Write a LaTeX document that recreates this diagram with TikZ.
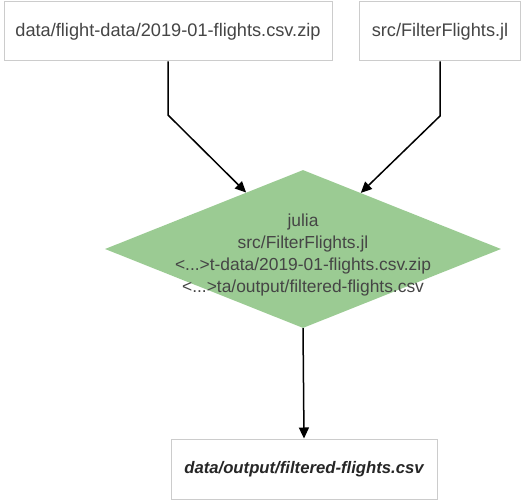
\documentclass[tikz,border=0pt]{standalone}
\usepackage{fontspec}
\setmainfont{Liberation Sans}
\usetikzlibrary{shapes.geometric,arrows.meta}
\definecolor{boxline}{HTML}{CCCCCC}
\definecolor{dgreen}{HTML}{9BCB93}
\definecolor{txtgrey}{HTML}{454545}
\begin{document}
\begin{tikzpicture}[x=1pt,y=-1pt,
  filebox/.style={draw=boxline, line width=1pt, fill=white, inner sep=0pt, text=txtgrey, font=\fontsize{18.2}{20}\selectfont},
  conn/.style={draw=black, line width=1.5pt, -{Triangle[length=11pt,width=10pt]}}]
\useasboundingbox (0,0) rectangle (521,502);
\node[filebox, minimum width=328pt, minimum height=59pt] (src1) at (168,31.5) {data/flight-data/2019-01-flights.csv.zip};
\node[filebox, minimum width=161pt, minimum height=59pt] (src2) at (440,31.5) {src/FilterFlights.jl};
\node[diamond, fill=dgreen, inner sep=0pt, minimum width=396pt, minimum height=158pt] (proc) at (303,249) {};
\node[align=center, text=txtgrey, font=\fontsize{17.4}{22}\selectfont, inner sep=0pt] (proctext) at (303,255) {julia\\src/FilterFlights.jl\\<...>t-data/2019-01-flights.csv.zip\\<...>ta/output/filtered-flights.csv};
\node[filebox, minimum width=266pt, minimum height=60pt, text=black!85, font=\fontsize{16.7}{20}\selectfont\bfseries\itshape] (out) at (304,469) {data/output/filtered-flights.csv};
\coordinate (b1) at (168,115);
\coordinate (b2) at (440,116);
\draw[conn] (src1.south) -- (b1) -- (proc);
\draw[conn] (src2.south) -- (b2) -- (proc);
\draw[conn] (proc.south) -- (out.north);
\end{tikzpicture}
\end{document}
